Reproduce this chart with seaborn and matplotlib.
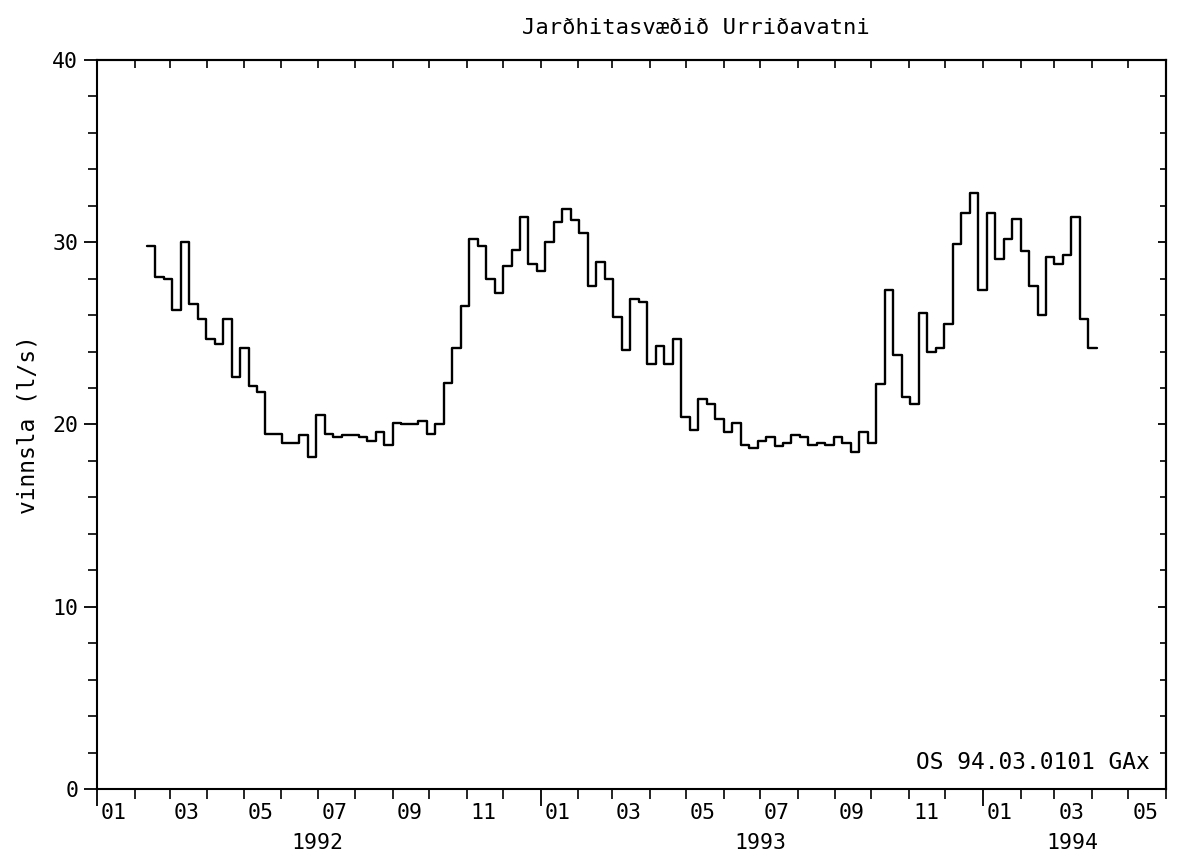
import matplotlib
matplotlib.use("Agg")
import matplotlib.dates as mdates
import matplotlib.pyplot as plt
import numpy as np
import pandas as pd
import seaborn as sns

# chart data (weekly production, l/s)
title = "Jarðhitasvæðið Urriðavatni"
y_label = "vinnsla (l/s)"
stamp = "OS 94.03.0101 GAx"
first_week = "1992-02-11"
weekly_flow = [
    29.8, 28.1, 28.0, 26.3, 30.0, 26.6, 25.8, 24.7, 24.4, 25.8,
    22.6, 24.2, 22.1, 21.8, 19.5, 19.5, 19.0, 19.0, 19.4, 18.2,
    20.5, 19.5, 19.3, 19.4, 19.4, 19.3, 19.1, 19.6, 18.9, 20.1,
    20.0, 20.0, 20.2, 19.5, 20.0, 22.3, 24.2, 26.5, 30.2, 29.8,
    28.0, 27.2, 28.7, 29.6, 31.4, 28.8, 28.4, 30.0, 31.1, 31.8,
    31.2, 30.5, 27.6, 28.9, 28.0, 25.9, 24.1, 26.9, 26.7, 23.3,
    24.3, 23.3, 24.7, 20.4, 19.7, 21.4, 21.1, 20.3, 19.6, 20.1,
    18.9, 18.7, 19.1, 19.3, 18.8, 19.0, 19.4, 19.3, 18.9, 19.0,
    18.9, 19.3, 19.0, 18.5, 19.6, 19.0, 22.2, 27.4, 23.8, 21.5,
    21.1, 26.1, 24.0, 24.2, 25.5, 29.9, 31.6, 32.7, 27.4, 31.6,
    29.1, 30.2, 31.3, 29.5, 27.6, 26.0, 29.2, 28.8, 29.3, 31.4,
    25.8, 24.2,
]
x_start, x_end = "1992-01-01", "1994-06-01"
month_labels = ["01", "03", "05", "07", "09", "11",
                "01", "03", "05", "07", "09", "11",
                "01", "03", "05"]
month_label_dates = pd.date_range("1992-01-01", "1994-05-01", freq="2MS") + pd.Timedelta(days=14)
year_labels = ["1992", "1993", "1994"]
year_label_dates = pd.to_datetime(["1992-07-01", "1993-07-01", "1994-03-16"])

# repeat the last value so the final week gets its step
dates = pd.date_range(first_week, periods=len(weekly_flow) + 1, freq="7D")
flow = weekly_flow + [weekly_flow[-1]]
df = pd.DataFrame({"date": dates, "flow": flow})

sns.set_style("ticks")
plt.rcParams["font.family"] = ["DejaVu Sans Mono", "DejaVu Sans"]
plt.rcParams.update({
    "axes.linewidth": 1.5,
    "axes.edgecolor": "black",
    "axes.labelcolor": "black",
    "text.color": "black",
    "xtick.color": "black",
    "ytick.color": "black",
})

fig = plt.figure(figsize=(11.8, 8.55), dpi=100)
ax = fig.add_axes([97 / 1180, 1 - 789 / 855, (1166 - 97) / 1180, (789 - 60) / 855])

sns.lineplot(data=df, x="date", y="flow", drawstyle="steps-post", color="black",
             linewidth=1.7, estimator=None, sort=False, ax=ax)

ax.set_xlim(pd.Timestamp(x_start), pd.Timestamp(x_end))
ax.set_ylim(0, 40)
ax.set_xlabel("")
ax.set_ylabel(y_label, fontsize=16.5, labelpad=9)

# y axis: labelled 10s outside on the left, every 2 as minor
ax.set_yticks(np.arange(0, 41, 10))
ax.set_yticks(np.arange(0, 41, 2), minor=True)
ax.tick_params(axis="y", which="major", direction="out", length=9.5, width=1.3,
               labelsize=15.5, pad=4, right=False)
ax.tick_params(axis="y", which="minor", direction="out", length=6.5, width=1.2, right=False)

sec_y = ax.secondary_yaxis("right")
sec_y.set_yticks(np.arange(0, 41, 10))
sec_y.set_yticks(np.arange(0, 41, 2), minor=True)
sec_y.tick_params(which="major", direction="in", length=6, width=1.3, labelright=False)
sec_y.tick_params(which="minor", direction="in", length=4, width=1.2)
sec_y.set_yticklabels([])

# x axis: month ticks, longer ticks at new year
month_starts = pd.date_range(x_start, x_end, freq="MS")
year_starts = pd.date_range(x_start, x_end, freq="YS")
ax.set_xticks(year_starts)
ax.set_xticks(month_starts, minor=True)
ax.tick_params(axis="x", which="major", direction="out", length=12, width=1.3,
               labelbottom=False, top=False)
ax.tick_params(axis="x", which="minor", direction="out", length=7, width=1.2, top=False)
ax.xaxis.set_minor_formatter(plt.NullFormatter())

sec_x = ax.secondary_xaxis("top")
sec_x.set_xticks(mdates.date2num(month_starts))
sec_x.tick_params(direction="in", length=6, width=1.2, labeltop=False)
sec_x.set_xticklabels([])

for lbl, d in zip(month_labels, month_label_dates):
    ax.annotate(lbl, xy=(d, 0), xycoords=("data", "axes fraction"), xytext=(0, -10),
                textcoords="offset points", ha="center", va="top", fontsize=15.5)
for lbl, d in zip(year_labels, year_label_dates):
    ax.annotate(lbl, xy=(d, 0), xycoords=("data", "axes fraction"), xytext=(0, -39),
                textcoords="offset points", ha="center", va="center", fontsize=15.5)

ax.text(0.985, 0.036, stamp, transform=ax.transAxes, ha="right", va="center", fontsize=16.5)
fig.text(0.59, 1 - 28 / 855, title, ha="center", va="center", fontsize=16)

fig.savefig("out.png", dpi=100)
